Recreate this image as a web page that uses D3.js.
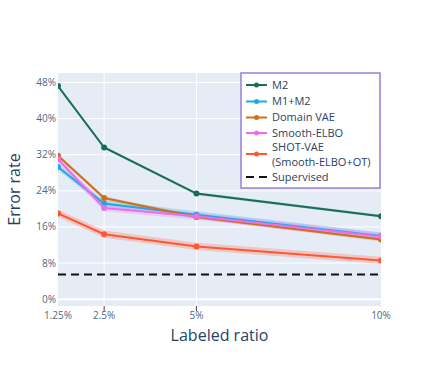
<!DOCTYPE html>
<html>
<head>
<meta charset="utf-8">
<script src="https://cdn.jsdelivr.net/npm/d3@7"></script>
<style>
    body { margin: 0; background: #fff; }
    text { font-family: "Open Sans", "DejaVu Sans", sans-serif; fill: #2a3f5f; }
    .tick-label { font-size: 10px; fill: #506784; }
    .axis-title { font-size: 16px; }
    .legend-text { font-size: 11px; }
</style>
</head>
<body>
<svg id="chart"></svg>
<script>
// Labeled ratio (%)
const ratios = [1.25, 2.5, 5, 10];
const xTickLabels = ["1.25%", "2.5%", "5%", "10%"];
const yTicks = [0, 8, 16, 24, 32, 40, 48];

// Error rate (%) per method
const m2 = [47.2, 33.6, 23.4, 18.4];
const m1m2 = [29.3, 21.2, 18.7, 14.0];
const domainVae = [31.8, 22.4, 18.2, 13.2];
const smoothElbo = [31.0, 20.2, 18.4, 13.9];
const shotVae = [19.0, 14.4, 11.7, 8.6];
const supervised = 5.5;

// Half width of the shaded band round each line
const bandM2 = [0.3, 0.3, 0.3, 0.3];
const bandM1m2 = [0.7, 0.7, 0.8, 0.8];
const bandDomain = [0.4, 0.4, 0.4, 0.4];
const bandSmooth = [0.7, 0.7, 0.8, 0.8];
const bandShot = [0.8, 0.8, 0.8, 0.8];

const series = [
    { name: "M2", values: m2, band: bandM2, color: "#176e57" },
    { name: "M1+M2", values: m1m2, band: bandM1m2, color: "#1fa9e1" },
    { name: "Domain VAE", values: domainVae, band: bandDomain, color: "#cc701c" },
    { name: "Smooth-ELBO", values: smoothElbo, band: bandSmooth, color: "#ef6cf0" },
    { name: "SHOT-VAE", values: shotVae, band: bandShot, color: "#ff5733", sub: "(Smooth-ELBO+OT)" }
];

const W = 443, H = 370;
const margin = { top: 73, right: 62, bottom: 64, left: 58 };
const width = W - margin.left - margin.right;
const height = H - margin.top - margin.bottom;

const root = d3.select("#chart").attr("width", W).attr("height", H);

const x = d3.scaleLinear().domain([1.25, 10]).range([0, width]);
const y = d3.scaleLinear().domain([-1.5, 50.1]).range([height, 0]);

const svg = root.append("g").attr("transform", `translate(${margin.left},${margin.top})`);

svg.append("defs").append("clipPath").attr("id", "plot-clip")
    .append("rect").attr("width", width).attr("height", height);

// Plot background
svg.append("rect")
    .attr("width", width)
    .attr("height", height)
    .attr("fill", "#e5ecf6");

// Grid lines
svg.selectAll(".ygrid")
    .data(yTicks)
    .join("line")
    .attr("x1", 0).attr("x2", width)
    .attr("y1", d => y(d)).attr("y2", d => y(d))
    .attr("stroke", "#fff")
    .attr("stroke-width", d => d === 0 ? 2 : 1);

svg.selectAll(".xgrid")
    .data(ratios.slice(1, -1))
    .join("line")
    .attr("x1", d => x(d)).attr("x2", d => x(d))
    .attr("y1", 0).attr("y2", height)
    .attr("stroke", "#fff");

const plot = svg.append("g").attr("clip-path", "url(#plot-clip)");

const area = d3.area()
    .x((d, i) => x(ratios[i]))
    .y0(d => y(d[0]))
    .y1(d => y(d[1]));

const line = d3.line()
    .x((d, i) => x(ratios[i]))
    .y(d => y(d));

// Bands first, then lines on top
series.forEach(s => {
    plot.append("path")
        .datum(s.values.map((v, i) => [v - s.band[i], v + s.band[i]]))
        .attr("d", area)
        .attr("fill", s.color)
        .attr("fill-opacity", 0.25);
});

// Supervised baseline
plot.append("line")
    .attr("x1", 0).attr("x2", width)
    .attr("y1", y(supervised)).attr("y2", y(supervised))
    .attr("stroke", "#111")
    .attr("stroke-width", 2)
    .attr("stroke-dasharray", "8,5");

series.forEach(s => {
    plot.append("path")
        .datum(s.values)
        .attr("d", line)
        .attr("fill", "none")
        .attr("stroke", s.color)
        .attr("stroke-width", 2);

    plot.selectAll(null)
        .data(s.values)
        .join("circle")
        .attr("cx", (d, i) => x(ratios[i]))
        .attr("cy", d => y(d))
        .attr("r", 3)
        .attr("fill", s.color);
});

// X ticks (interior only) and labels
svg.selectAll(".xtick")
    .data(ratios.slice(1, -1))
    .join("line")
    .attr("x1", d => x(d)).attr("x2", d => x(d))
    .attr("y1", height).attr("y2", height + 5)
    .attr("stroke", "#444");

svg.selectAll(".xlabel")
    .data(ratios)
    .join("text")
    .attr("class", "tick-label")
    .attr("x", d => x(d))
    .attr("y", height + 13)
    .attr("text-anchor", "middle")
    .text((d, i) => xTickLabels[i]);

svg.selectAll(".ylabel")
    .data(yTicks)
    .join("text")
    .attr("class", "tick-label")
    .attr("x", -2)
    .attr("y", d => y(d))
    .attr("dy", "0.35em")
    .attr("text-anchor", "end")
    .text(d => `${d}%`);

// Axis titles
svg.append("text")
    .attr("class", "axis-title")
    .attr("x", width / 2)
    .attr("y", height + 35)
    .attr("text-anchor", "middle")
    .text("Labeled ratio");

svg.append("text")
    .attr("class", "axis-title")
    .attr("transform", `translate(${-38},${height / 2}) rotate(-90)`)
    .attr("text-anchor", "middle")
    .text("Error rate");

// Legend
const legend = root.append("g").attr("transform", "translate(241,73)");
legend.append("rect")
    .attr("width", 139)
    .attr("height", 115)
    .attr("fill", "#fff")
    .attr("stroke", "#9b7ddb")
    .attr("stroke-width", 1.5);

const rowY = [12, 28.5, 44.5, 60, 81, 104];
series.forEach((s, i) => {
    const g = legend.append("g").attr("transform", `translate(0,${rowY[i]})`);
    g.append("line").attr("x1", 5).attr("x2", 26).attr("stroke", s.color).attr("stroke-width", 2);
    g.append("circle").attr("cx", 15.5).attr("r", 2.5).attr("fill", s.color);
    if (s.sub) {
        g.append("text").attr("class", "legend-text").attr("x", 31).attr("y", -7).attr("dy", "0.35em").text(s.name);
        g.append("text").attr("class", "legend-text").attr("x", 31).attr("y", 8).attr("dy", "0.35em").text(s.sub);
    } else {
        g.append("text").attr("class", "legend-text").attr("x", 31).attr("dy", "0.35em").text(s.name);
    }
});
const sup = legend.append("g").attr("transform", `translate(0,${rowY[5]})`);
sup.append("line").attr("x1", 5).attr("x2", 26).attr("stroke", "#111")
    .attr("stroke-width", 2).attr("stroke-dasharray", "8,5");
sup.append("text").attr("class", "legend-text").attr("x", 31).attr("dy", "0.35em").text("Supervised");
</script>
</body>
</html>
